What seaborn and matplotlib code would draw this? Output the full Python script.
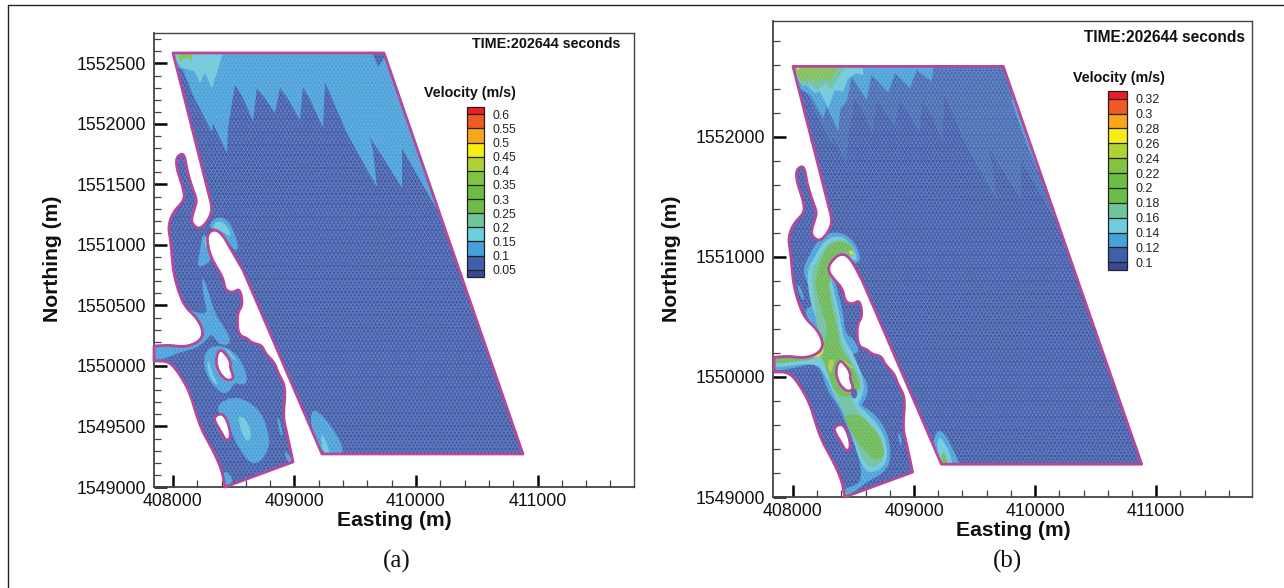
import numpy as np
import matplotlib
matplotlib.use("Agg")
import matplotlib.pyplot as plt
import seaborn as sns
from matplotlib.path import Path
from matplotlib.patches import PathPatch
from matplotlib.lines import Line2D
from matplotlib.colors import ListedColormap, BoundaryNorm
from matplotlib.collections import LineCollection
from matplotlib.cm import ScalarMappable
from matplotlib.ticker import FixedLocator, MultipleLocator, FuncFormatter

W, H = 1284, 588
E0, N0 = 408000, 1549000

# all outlines are metres east of E0 / north of N0
boundary_head = [(0, 3587), (1737, 3587), (2880, 273), (1226, 273), (576, 1793)]
boundary_neck_a = [(494, 1934), (412, 2083), (346, 2132), (288, 2099), (280, 2016), (321, 1876)]
boundary_neck_b = [(471, 2000), (388, 2032), (305, 1949), (291, 1891), (319, 1836)]
boundary_tail = [(412, 1735), (428, 1628), (494, 1603),
                 (551, 1645), (576, 1504), (527, 1438), (535, 1256), (609, 1231), (650, 1190), (732, 1173),
                 (757, 1107), (839, 1025), (864, 942), (930, 826), (905, 578), (938, 446), (988, 207),
                 (428, 0), (403, 140), (329, 306), (222, 496), (140, 785), (33, 967), (-41, 1041),
                 (-156, 1041), (-156, 1165), (-25, 1173), (82, 1157), (181, 1182), (239, 1231), (247, 1297),
                 (198, 1397), (99, 1488), (41, 1628), (0, 1793), (-16, 2016), (-41, 2149), (0, 2273),
                 (99, 2372), (82, 2479), (33, 2620), (25, 2719), (74, 2760), (99, 2727), (115, 2620),
                 (156, 2479), (198, 2372), (181, 2314), (148, 2206), (173, 2157), (222, 2132), (280, 2190),
                 (321, 2273), (313, 2347)]
# vertices where the outline has a real corner
boundary_corners = [(0, 3587), (1737, 3587), (2880, 273), (1226, 273), (576, 1793), (988, 207), (428, 0),
                    (-156, 1041), (-156, 1165), (313, 2347)]
island_1 = [(387, 1140), (428, 1107), (477, 1033), (469, 983), (502, 909), (469, 876), (412, 901),
            (362, 983), (354, 1074)]
island_2 = [(346, 587), (412, 612), (461, 512), (477, 405), (436, 380), (403, 446), (337, 554)]

# panel (a) velocity regions
a_top_mid = [(-20, 3600), (1728, 3600), (2206, 2231), (1885, 2801), (1885, 2471), (1704, 2760), (1564, 2975),
             (1514, 3281), (1646, 2785), (1679, 2479), (1539, 2727), (1432, 2925), (1251, 3347), (1235, 2967),
             (1130, 3200), (1070, 3306), (1045, 3033), (945, 3210), (881, 3297), (839, 3091), (755, 3215),
             (691, 3297), (658, 3025), (575, 3220), (510, 3322),
             (453, 2967), (444, 2760), (329, 3008), (321, 2934), (165, 3239), (82, 3446), (-20, 3504)]
a_top_notch = [(1638, 3600), (1687, 3471), (1728, 3529), (1760, 3600)]
a_top_light = [(16, 3600), (412, 3600), (387, 3504), (321, 3297), (263, 3421), (222, 3339), (181, 3430),
               (140, 3446), (74, 3463), (25, 3529)]
a_top_green = [(33, 3600), (165, 3600), (156, 3512), (115, 3553), (58, 3512)]
a_low_mid = [(1144, 669), (1292, 529), (1440, 260), (1226, 260), (1130, 500)]
a_low_light = [(1210, 488), (1309, 260), (1235, 260)]
a_neck_mid = [(288, 2149), (346, 2231), (444, 2223), (510, 2099), (543, 1959), (494, 1959), (412, 2083), (346, 2132)]
a_neck_light = [(321, 2149), (370, 2206), (444, 2165), (486, 2058), (412, 2107), (346, 2140)]
a_streak_mid = [(247, 2107), (288, 2041), (321, 1876), (263, 1835), (198, 1810), (222, 1959)]
a_streak_light = [(263, 2099), (288, 2016), (263, 1959)]
a_river_mid = [(-170, 1175), (82, 1175), (181, 1200), (250, 1231), (255, 1297), (198, 1397), (120, 1470), (208, 1435),
               (290, 1435), (249, 1573), (235, 1760), (290, 1628), (318, 1517), (373, 1380), (414, 1338), (490, 1187),
               (386, 1165), (318, 1270), (290, 1228), (198, 1149), (33, 1107), (-49, 1066), (-170, 1041)]
a_ring_mid = [(387, 1173), (510, 1116), (593, 983), (617, 859), (551, 843), (510, 868), (444, 760), (362, 802),
              (280, 909), (247, 1050), (288, 1149)]
a_ring_light_w = [(288, 1074), (321, 942), (370, 859), (346, 843), (280, 967)]
a_ring_light_e = [(412, 1173), (494, 1091), (527, 1025), (486, 1066)]
a_blob_mid = [(370, 678), (453, 735), (576, 735), (716, 636), (782, 471), (798, 331), (716, 198), (634, 198),
              (568, 281), (494, 413), (469, 496), (370, 612)]
a_blob_light = [(551, 595), (617, 537), (650, 413), (609, 372), (568, 446), (535, 554)]
a_tip_mid = [(412, 157), (510, 58), (428, -10)]
a_strip_1 = [(856, 603), (897, 496), (905, 388), (864, 496)]
a_strip_2 = [(905, 322), (1000, 207), (946, 190)]

# panel (b) velocity regions
b_top_mid = [(-20, 3600), (1164, 3600), (1145, 3460), (1021, 3557), (966, 3405), (842, 3530), (787, 3369), (649, 3516),
             (608, 3307), (484, 3502), (448, 3307), (388, 3224), (374, 3044), (278, 3252), (250, 3155),
             (140, 3349), (71, 3391), (-20, 3500)]
b_top_light = [(16, 3600), (580, 3600), (580, 3516), (525, 3530), (457, 3488), (415, 3377), (346, 3391), (291, 3238),
               (223, 3377), (181, 3363), (112, 3432), (44, 3474)]
b_top_teal = [(16, 3600), (443, 3600), (374, 3488), (319, 3391), (264, 3446), (195, 3377), (140, 3446), (85, 3419), (30, 3488)]
b_top_green = [(16, 3600), (374, 3600), (346, 3530), (291, 3460), (250, 3502), (195, 3446), (140, 3502), (85, 3460), (44, 3502)]
b_top_yellow = [(24, 3590), (63, 3590), (44, 3543)]
b_edge_mid = [(1778, 3391), (1861, 3127), (1971, 2835), (2108, 2530), (2205, 2530), (1930, 3391)]
b_low_mid = [(1186, 564), (1255, 530), (1310, 419), (1379, 280), (1360, 250), (1190, 250), (1150, 420)]
b_low_light = [(1200, 516), (1269, 433), (1324, 280), (1300, 250), (1200, 250), (1190, 400)]
b_low_green = [(1241, 405), (1283, 280), (1270, 255), (1215, 255)]
b_river_mid = [(126, 2002), (235, 2185), (388, 2215), (515, 2125), (567, 1961), (498, 1947), (320, 1891), (375, 1697),
               (420, 1502), (429, 1363), (512, 1308), (553, 1197), (470, 1197), (553, 1058), (622, 933), (608, 822),
               (553, 766), (677, 697), (787, 530), (814, 308), (746, 197), (635, 142), (525, 58), (429, -10),
               (415, 58), (470, 86), (553, 114), (567, 225), (525, 392), (470, 530), (401, 697), (360, 780),
               (278, 891), (236, 1058), (167, 1113), (2, 1072), (-170, 1044), (-170, 1175), (90, 1175), (200, 1290),
               (195, 1400), (120, 1480), (99, 1558), (140, 1586), (181, 1613), (120, 1780), (80, 1891)]
b_river_light = [(167, 1974), (255, 2140), (388, 2185), (500, 2095), (539, 1961), (470, 1988), (295, 1891), (345, 1697),
                 (395, 1474), (415, 1322), (512, 1169), (594, 947), (567, 822), (525, 766), (649, 669), (759, 516),
                 (787, 308), (718, 225), (608, 197), (539, 336), (484, 530), (415, 725), (346, 822), (264, 1030),
                 (195, 1113), (2, 1099), (-170, 1072), (-170, 1175), (90, 1175), (200, 1290), (195, 1380), (209, 1447),
                 (135, 1641), (115, 1891)]
b_river_teal = [(195, 1947), (280, 2115), (402, 2155), (490, 2105), (512, 1988), (429, 2030), (319, 1947), (275, 1891),
                (320, 1697), (375, 1474), (402, 1266), (484, 1141), (575, 961), (555, 864), (470, 790), (608, 641),
                (732, 502), (759, 322), (691, 253), (608, 253), (525, 419), (443, 669), (360, 822), (291, 1002),
                (236, 1169), (181, 1155), (2, 1127), (-170, 1100), (-170, 1175), (90, 1175), (200, 1290), (209, 1377),
                (170, 1641), (150, 1891)]
b_river_green = [(236, 2002), (305, 2110), (415, 2135), (500, 2075), (498, 2002), (415, 2058), (319, 1988), (310, 1808),
                 (295, 1752), (325, 1558), (370, 1391), (388, 1238), (484, 1113), (553, 961), (535, 877), (443, 822),
                 (346, 864), (278, 1058), (236, 1183), (250, 1252), (291, 1419), (225, 1558), (185, 1780), (185, 1808)]
b_blob_green = [(415, 683), (525, 697), (636, 614), (732, 475), (759, 364), (718, 308), (649, 322), (539, 447), (457, 586)]
b_channel_green = [(2, 1155), (181, 1169), (167, 1141), (2, 1127), (-170, 1110), (-170, 1175)]
b_gap = [(506, 913), (533, 877), (525, 822), (492, 822), (470, 869)]
b_tip_green = [(429, 44), (470, 30), (437, -10)]
b_strip_1 = [(30, 1780), (71, 1738), (99, 1627), (57, 1669)]
b_strip_2 = [(869, 544), (897, 502), (897, 419), (869, 475)]
b_iw_lime = [(291, 1141), (346, 1155), (319, 1030), (291, 1058)]
b_ie_lime = [(402, 1155), (510, 1072), (484, 1072), (402, 1127)]
b_neck_yellow = [(457, 2058), (498, 2044), (498, 2016), (470, 2024)]
b_hot_lime = [(209, 1363), (264, 1266), (250, 1183), (154, 1141), (195, 1225)]
b_hot_yellow = [(217, 1336), (256, 1252), (236, 1175), (181, 1163), (209, 1225)]
b_hot_orange = [(217, 1322), (250, 1252), (228, 1197), (195, 1175), (214, 1238)]
b_hot_red = [(223, 1280), (242, 1247), (223, 1205), (217, 1247)]

# legend
band_colors = ["#39489b", "#3e5fa9", "#45a2d9", "#6ecfdc", "#6fc59a", "#6cbd45", "#6cbd45",
               "#84c341", "#b1d235", "#f7ec13", "#faa61a", "#f15a24", "#ed1c24"]
a_levels = [0.05, 0.1, 0.15, 0.2, 0.25, 0.3, 0.35, 0.4, 0.45, 0.5, 0.55, 0.6]
b_levels = [0.1, 0.12, 0.14, 0.16, 0.18, 0.2, 0.22, 0.24, 0.26, 0.28, 0.3, 0.32]
a_labels = ["0.05", "0.1", "0.15", "0.2", "0.25", "0.3", "0.35", "0.4", "0.45", "0.5", "0.55", "0.6"]
b_labels = ["0.1", "0.12", "0.14", "0.16", "0.18", "0.2", "0.22", "0.24", "0.26", "0.28", "0.3", "0.32"]

BASE, FAINT, MID, LIGHT, TEAL, GREEN, LIME = "#3f58a6", "#4468b0", "#45a2d9", "#6ecfdc", "#6fc59a", "#6cbd45", "#b1d235"
YELLOW, ORANGE, RED = "#f7ec13", "#f47f20", "#ed1c24"
MAGENTA = "#b5489a"

a_layers = [(a_top_mid, MID, False), (a_top_notch, BASE, False), (a_top_light, LIGHT, False), (a_top_green, "#84c341", False),
            (a_low_mid, MID, True), (a_low_light, LIGHT, True), (a_neck_mid, MID, True), (a_neck_light, LIGHT, True),
            (a_streak_mid, MID, True), (a_streak_light, LIGHT, True), (a_river_mid, MID, True), (a_ring_mid, MID, True),
            (a_ring_light_w, LIGHT, True), (a_ring_light_e, LIGHT, True), (a_blob_mid, MID, True),
            (a_blob_light, LIGHT, True), (a_tip_mid, MID, True), (a_strip_1, MID, True), (a_strip_2, MID, True)]
b_layers = [(a_top_mid, FAINT, False), (b_top_mid, MID, False), (b_top_light, LIGHT, False), (b_top_teal, TEAL, False),
            (b_top_green, "#84c341", False),
            (b_top_yellow, YELLOW, True), (b_edge_mid, MID, True), (b_low_mid, MID, True), (b_low_light, LIGHT, True),
            (b_low_green, GREEN, True), (b_strip_1, MID, True), (b_strip_2, MID, True), (b_river_mid, MID, True),
            (b_river_light, LIGHT, True), (b_river_teal, TEAL, True), (b_river_green, GREEN, True),
            (b_blob_green, GREEN, True), (b_channel_green, GREEN, True), (b_gap, BASE, True), (b_tip_green, GREEN, True),
            (b_iw_lime, LIME, True), (b_ie_lime, LIME, True), (b_neck_yellow, YELLOW, True), (b_hot_lime, LIME, True),
            (b_hot_yellow, YELLOW, True), (b_hot_orange, ORANGE, True), (b_hot_red, RED, True)]


def to_xy(pts):
    arr = np.array(pts, dtype=float)
    return arr[:, 0] + E0, arr[:, 1] + N0


def region_path(pts, smooth):
    x, y = to_xy(pts)
    p = np.column_stack([x, y])
    if not smooth:
        return Path(np.vstack([p, p[0]]), closed=True)
    mids = (p + np.roll(p, -1, axis=0)) / 2
    verts = [mids[-1]]
    codes = [Path.MOVETO]
    for ctrl, mid in zip(p, mids):
        verts += [ctrl, mid]
        codes += [Path.CURVE3, Path.CURVE3]
    return Path(np.array(verts), codes)


def outline_path(neck):
    pts = []
    for p in boundary_head + neck + boundary_tail:
        pts.append(p)
        if p in boundary_corners:
            pts.append(p)
    return region_path(pts, True)


def px_rect(left, top, right, bottom):
    return [left / W, 1 - bottom / H, (right - left) / W, (bottom - top) / H]


def draw_panel(fig, rect, xlim, ylim, layers, neck, y_major, y_minor):
    ax = fig.add_axes(rect)
    ax.set_xlim(xlim)
    ax.set_ylim(ylim)
    domain = outline_path(neck)
    ax.add_patch(PathPatch(domain, fc=BASE, ec="none", zorder=1))
    clip = PathPatch(domain, transform=ax.transData, fc="none", ec="none")
    ax.add_patch(clip)
    for pts, color, smooth in layers:
        patch = PathPatch(region_path(pts, smooth), fc=color, ec="none", zorder=2)
        ax.add_patch(patch)
        patch.set_clip_path(clip)

    # fine triangular mesh texture
    step = 27.0
    rows = np.arange(N0 - 50, N0 + 3700, step)
    segs = [[(E0 - 200, r), (E0 + 3000, r)] for r in rows]
    for c in np.arange(E0 - 2400, E0 + 5000, step * 1.15):
        segs.append([(c, N0), (c + 2150, N0 + 3650)])
        segs.append([(c, N0), (c - 2150, N0 + 3650)])
    mesh = LineCollection(segs, colors="#a9c3ea", linewidths=0.32, alpha=0.5, zorder=3)
    ax.add_collection(mesh, autolim=False)
    mesh.set_clip_path(clip)

    for hole in (island_1, island_2):
        ax.add_patch(PathPatch(region_path(hole, True), fc="white", ec=MAGENTA, lw=1.9, zorder=4))
    # flatten the curved outline for the line plot
    ring = domain.to_polygons(closed_only=False)[0]
    sns.lineplot(x=ring[:, 0], y=ring[:, 1], sort=False, estimator=None, color=MAGENTA,
                 linewidth=2.0, ax=ax, zorder=5, legend=False)
    ax.lines[-1].set_solid_joinstyle("round")
    ax.lines[-1].set_clip_on(False)

    ax.xaxis.set_major_locator(FixedLocator([408000, 409000, 410000, 411000]))
    ax.xaxis.set_minor_locator(MultipleLocator(200))
    ax.yaxis.set_major_locator(MultipleLocator(y_major))
    ax.yaxis.set_minor_locator(MultipleLocator(y_minor))
    fmt = FuncFormatter(lambda v, _: f"{v:.0f}")
    ax.xaxis.set_major_formatter(fmt)
    ax.yaxis.set_major_formatter(fmt)
    ax.tick_params(which="major", direction="in", length=9, width=1.8, color="black", labelsize=12.8,
                   pad=5.5, labelcolor="#111111", zorder=6)
    ax.tick_params(which="minor", direction="in", length=5, width=0.9, color="#444444")
    ax.tick_params(axis="x", which="major", pad=4)
    for name, spine in ax.spines.items():
        spine.set_color("#444444")
        spine.set_linewidth(1.3 if name in ("left", "bottom") else 1.0)
    ax.set_xlabel("")
    ax.set_ylabel("")
    return ax


def draw_legend(fig, rect, levels, labels, size):
    cax = fig.add_axes(rect)
    d = levels[1] - levels[0]
    bounds = [levels[0] - 0.52 * d] + list(levels) + [levels[-1] + 0.52 * d]
    cmap = ListedColormap(band_colors)
    cb = fig.colorbar(ScalarMappable(norm=BoundaryNorm(bounds, cmap.N), cmap=cmap), cax=cax, spacing="proportional",
                      drawedges=True)
    cb.set_ticks(levels, labels=labels)
    cb.minorticks_off()
    cb.ax.tick_params(length=0, pad=6, labelsize=size, labelcolor="#222222")
    cb.dividers.set_color("#222222")
    cb.dividers.set_linewidth(0.9)
    cb.outline.set_edgecolor("#222222")
    cb.outline.set_linewidth(0.9)


sns.set_theme(style="ticks", rc={"axes.grid": False})
plt.rcParams["font.family"] = ["Liberation Sans", "DejaVu Sans"]

fig = plt.figure(figsize=(W / 100, H / 100), dpi=100, facecolor="white")

# outer frame of the figure
fig.add_artist(Line2D([8 / W, 8 / W, 1], [0, 1 - 5 / H, 1 - 5 / H], color="#222222", lw=1.0))

draw_panel(fig, px_rect(154, 33, 634, 487), (407844, 411794), (1549000, 1552752), a_layers, boundary_neck_a, 500, 100)
draw_panel(fig, px_rect(773, 21, 1252, 497), (407835, 411791), (1549000, 1552965), b_layers, boundary_neck_b, 1000, 200)

draw_legend(fig, px_rect(467, 107, 484, 277), a_levels, a_labels, 8.8)
draw_legend(fig, px_rect(1108, 91, 1127, 270), b_levels, b_labels, 9.0)


def put(x, y, s, **kw):
    fig.text(x / W, 1 - y / H, s, va="center", **kw)


put(620, 44, "TIME:202644 seconds", ha="right", fontsize=10.3, fontweight="bold", color="#111111")
put(1245, 37, "TIME:202644 seconds", ha="right", fontsize=11.2, fontweight="bold", color="#111111")
put(424, 93, "Velocity (m/s)", ha="left", fontsize=10.3, fontweight="bold", color="#111111")
put(1073, 78, "Velocity (m/s)", ha="left", fontsize=10.3, fontweight="bold", color="#111111")
put(394, 520, "Easting (m)", ha="center", fontsize=15.2, fontweight="bold", color="#111111")
put(1013, 531, "Easting (m)", ha="center", fontsize=15.2, fontweight="bold", color="#111111")
put(52, 259, "Northing (m)", ha="center", rotation=90, fontsize=15.2, fontweight="bold", color="#111111")
put(672, 259, "Northing (m)", ha="center", rotation=90, fontsize=15.2, fontweight="bold", color="#111111")
put(397, 561, "(a)", ha="center", fontsize=18, family="Liberation Serif", color="#111111")
put(1008, 561, "(b)", ha="center", fontsize=18, family="Liberation Serif", color="#111111")

fig.savefig("out.png", dpi=100)
